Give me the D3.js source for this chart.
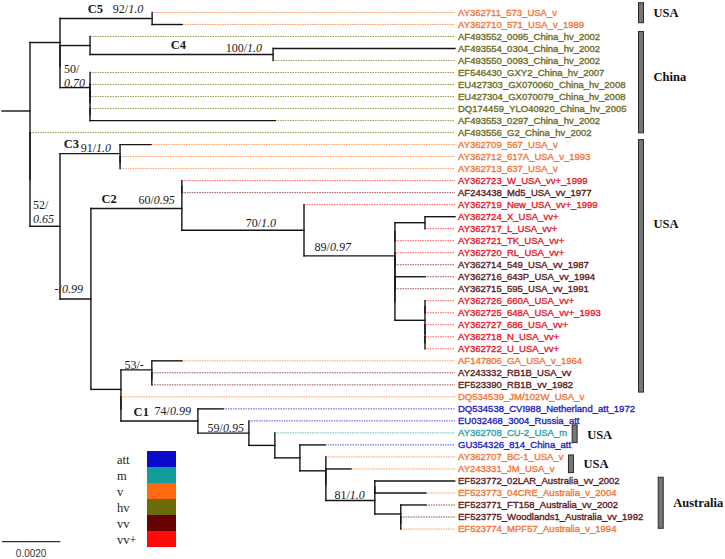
<!DOCTYPE html>
<html><head><meta charset="utf-8">
<script src="https://cdn.jsdelivr.net/npm/d3@7/dist/d3.min.js"></script>
<style>body{margin:0;background:#fff}svg{display:block}</style>
</head><body><svg id="c" width="725" height="559"></svg>
<script>
// ---------- DATA ----------
const leafNames = [
 "AY362711_573_USA_v","AY362710_571_USA_v_1989","AF493552_0095_China_hv_2002","AF493554_0304_China_hv_2002",
 "AF493550_0093_China_hv_2002","EF546430_GXY2_China_hv_2007","EU427303_GX070060_China_hv_2008","EU427304_GX070079_China_hv_2008",
 "DQ174459_YLO40920_China_hv_2005","AF493553_0297_China_hv_2002","AF493556_G2_China_hv_2002","AY362709_567_USA_v",
 "AY362712_617A_USA_v_1993","AY362713_637_USA_v","AY362723_W_USA_vv+_1999","AF243438_Md5_USA_vv_1977",
 "AY362719_New_USA_vv+_1999","AY362724_X_USA_vv+","AY362717_L_USA_vv+","AY362721_TK_USA_vv+",
 "AY362720_RL_USA_vv+","AY362714_549_USA_vv_1987","AY362716_643P_USA_vv_1994","AY362715_595_USA_vv_1991",
 "AY362726_660A_USA_vv+","AY362725_648A_USA_vv+_1993","AY362727_686_USA_vv+","AY362718_N_USA_vv+",
 "AY362722_U_USA_vv+","AF147806_GA_USA_v_1964","AY243332_RB1B_USA_vv","EF523390_RB1B_vv_1982",
 "DQ534539_JM/102W_USA_v","DQ534538_CVI988_Netherland_att_1972","EU032468_3004_Russia_att","AY362708_CU-2_USA_m",
 "GU354326_814_China_att","AY362707_BC-1_USA_v","AY243331_JM_USA_v","EF523772_02LAR_Australia_vv_2002",
 "EF523773_04CRE_Australia_v_2004","EF523771_FT158_Australia_vv_2002","EF523775_Woodlands1_Australia_vv_1992","EF523774_MPF57_Australia_v_1994"];
const leafTypes = [
 "v","v","hv","hv","hv","hv","hv","hv","hv","hv","hv","v","v","v","vv+","vv",
 "vv+","vv+","vv+","vv+","vv+","vv","vv","vv","vv+","vv+","vv+","vv+","vv+","v","vv","vv",
 "v","att","att","m","att","v","v","vv","v","vv","vv","v"];
const leafParents = [
 "nC5","nC5","nC4","n100","n100","n50","n50c","n50c","n50d","n50d","nB","nC3","nC3b","nC3b","nC2a","nC2a",
 "n70","nXL","nXL","n89a","n89c","n89c","n89e","n89e","nUGa","nUGa","nUGb","nUGc","nUGc","n53","n53a","n53a",
 "nDa","nC1","n59","nE","nF","nG","nGa","nHa","nHa","nI","nIa","nIa"];
const leafLengths = [
 0,0.00103,0,0.00624,0,0,0,0,0,0.00635,0,0.00106,0,0,0,0,
 0,0.00103,0,0,0,0,0.00103,0,0,0,0,0,0,0.00103,0,0,
 0,0.00086,0,0,0.00086,0,0.00086,0.00274,0.00175,0.00086,0,0];
// internal nodes: id, parent, branch length, support (bootstrap / posterior), clade name
const internalNodes = [
 {id:"root", parent:null,  length:0.00096},
 {id:"nA",   parent:"root", length:0.00103},
 {id:"nC5",  parent:"nA",   length:0.00316, bs:"92", pp:"1.0", clade:"C5"},
 {id:"nA2",  parent:"nA",   length:0},
 {id:"nC4",  parent:"nA2",  length:0.00103},
 {id:"n100", parent:"nC4",  length:0.00628, bs:"100", pp:"1.0", clade:"C4"},
 {id:"n50",  parent:"nA2",  length:0.00103, bs:"50", pp:"0.70"},
 {id:"n50b", parent:"n50",  length:0},
 {id:"n50c", parent:"n50b", length:0},
 {id:"n50d", parent:"n50b", length:0},
 {id:"nB",   parent:"root", length:0},
 {id:"nC",   parent:"nB",   length:0.00103, bs:"52", pp:"0.65"},
 {id:"nC3",  parent:"nC",   length:0.00206, bs:"91", pp:"1.0", clade:"C3"},
 {id:"nC3b", parent:"nC3",  length:0},
 {id:"nNeg", parent:"nC",   length:0.00106, bs:"-", pp:"0.99"},
 {id:"nC2",  parent:"nNeg", length:0.00312, bs:"60", pp:"0.95", clade:"C2"},
 {id:"nC2a", parent:"nC2",  length:0},
 {id:"n70",  parent:"nC2",  length:0.00419, bs:"70", pp:"1.0"},
 {id:"n89",  parent:"n70",  length:0.00312, bs:"89", pp:"0.97"},
 {id:"n89a", parent:"n89",  length:0},
 {id:"nXL",  parent:"n89a", length:0.00103},
 {id:"n89b", parent:"n89",  length:0},
 {id:"n89c", parent:"n89b", length:0},
 {id:"n89d", parent:"n89b", length:0},
 {id:"n89e", parent:"n89d", length:0},
 {id:"nUG",  parent:"n89d", length:0.00103},
 {id:"nUGa", parent:"nUG",  length:0},
 {id:"nUGb", parent:"nUG",  length:0},
 {id:"nUGc", parent:"nUGb", length:0},
 {id:"nD",   parent:"nNeg", length:0.00103},
 {id:"n53",  parent:"nD",   length:0.00106, bs:"53", pp:"-"},
 {id:"n53a", parent:"n53",  length:0},
 {id:"nDa",  parent:"nD",   length:0},
 {id:"nC1",  parent:"nDa",  length:0.00264, bs:"74", pp:"0.99", clade:"C1"},
 {id:"n59",  parent:"nC1",  length:0.00175, bs:"59", pp:"0.95"},
 {id:"nE",   parent:"n59",  length:0.00089},
 {id:"nF",   parent:"nE",   length:0.00086},
 {id:"nG",   parent:"nF",   length:0.00089},
 {id:"nGa",  parent:"nG",   length:0},
 {id:"nH",   parent:"nGa",  length:0.00168, bs:"81", pp:"1.0"},
 {id:"nHa",  parent:"nH",   length:0},
 {id:"nI",   parent:"nH",   length:0.00089},
 {id:"nIa",  parent:"nI",   length:0}
];
const typeKeys = ["att","m","v","hv","vv","vv+"];
const typeColors = ["#0a0acc","#139c9c","#ff6a10","#6b6b08","#660202","#ff0a0a"];
const labelColors = ["#2424c4","#2ea4a4","#f0783a","#6e6e26","#5e1c1c","#e8202a"];
const regionNames = ["USA","China","USA","USA","USA","Australia"];
const regionFirst = [0,2,11,35,37,39];
const regionLast  = [1,10,32,35,38,43];
const scaleBarValue = 0.002;
const scaleBarText = "0.0020";

// ---------- LAYOUT ----------
const svg = d3.select("#c");
const rows = internalNodes.map(d => ({...d}))
  .concat(leafNames.map((n,i) => ({id:"L"+i, parent:leafParents[i], length:leafLengths[i], name:n, type:leafTypes[i], index:i})));
const root = d3.stratify().id(d=>d.id).parentId(d=>d.parent)(rows);
root.eachAfter(n => { n.minLeaf = n.children ? d3.min(n.children, c=>c.minLeaf) : n.data.index; });
root.sort((a,b)=>a.minLeaf-b.minLeaf);
root.eachBefore(n => { n.dist = (n.parent ? n.parent.dist : 0) + n.data.length; });
const maxDist = d3.max(root.leaves(), l=>l.dist);

const x = d3.scaleLinear().domain([0, maxDist]).range([2, 455]);
const y = d3.scaleLinear().domain([0, leafNames.length-1]).range([12.5, 529]);
root.eachAfter(n => {
  n.y = n.children ? (n.children[0].y + n.children[n.children.length-1].y)/2 : y(n.data.index);
});
const typeColor = d3.scaleOrdinal(typeKeys, typeColors);
const labelColor = d3.scaleOrdinal(typeKeys, labelColors);

const lead = svg.append("g");
const tree = svg.append("g").attr("stroke","#151515").attr("stroke-width",1.4).attr("stroke-linecap","square").attr("fill","none");
root.leaves().forEach(l => {
  if (x(l.dist) < x(maxDist)-1) {
    lead.append("line").attr("x1",x(l.dist)).attr("x2",x(maxDist)).attr("y1",l.y).attr("y2",l.y)
      .attr("stroke",typeColor(l.data.type)).attr("stroke-width",1).attr("stroke-opacity",0.7)
      .attr("stroke-dasharray","1.5,1");
  }
});
tree.append("line").attr("x1",x(0)).attr("x2",x(root.dist)).attr("y1",root.y).attr("y2",root.y);
root.descendants().forEach(n => {
  if (n.parent && n.data.length > 0) {
    tree.append("line").attr("x1",x(n.parent.dist)).attr("x2",x(n.dist)).attr("y1",n.y).attr("y2",n.y);
  }
  if (n.children) {
    tree.append("line").attr("x1",x(n.dist)).attr("x2",x(n.dist))
      .attr("y1",n.children[0].y).attr("y2",n.children[n.children.length-1].y);
  }
});

// leaf labels
const labels = svg.append("g").attr("font-family","'Liberation Sans', Arial, sans-serif").attr("font-size","9.5px");
const labelRight = [];
root.leaves().forEach(l => {
  const c = labelColor(l.data.type);
  const t = labels.append("text").attr("x",x(maxDist)+3).attr("y",l.y).attr("dy","0.35em")
    .attr("fill",c).attr("stroke",c).attr("stroke-width",0.35).text(l.data.name);
  labelRight[l.data.index] = x(maxDist)+3 + t.node().getComputedTextLength();
});

// support + clade labels (placement offsets relative to node)
const place = {
  nC5:{dx:-9,dy:-5.3,c:[-49,-6]}, n100:{dx:-11,dy:-2.8,c:[-87,-6]},
  n50:{two:true,dx:-26,dy1:-14.3,dy2:-1}, nC:{two:true,dx:-27,dy1:-17.3,dy2:-3.3},
  nC3:{dx:-9,dy:-1.9,c:[-41,-5.3]}, nNeg:{dx:-8,dy:-6}, nC2:{dx:-7,dy:-4.6,c:[-65,-5]},
  n70:{dx:-28,dy:-3.5}, n89:{dx:-44,dy:-4.8}, n53:{dx:-8,dy:-0.8},
  nC1:{dx:-7,dy:-6,c:[-49,-5.3]}, n59:{dx:-5,dy:-1.2}, nH:{dx:-10,dy:-1.5}
};
const ann = svg.append("g").attr("font-family","'Liberation Serif','Times New Roman',serif").attr("fill","#1a1a1a");
root.descendants().filter(n=>n.data.bs).forEach(n => {
  const p = place[n.data.id]; const nx = x(n.dist);
  if (p.two) {
    ann.append("text").attr("x",nx+p.dx).attr("y",n.y+p.dy1).attr("font-size","12px").text(n.data.bs+"/");
    ann.append("text").attr("x",nx+p.dx).attr("y",n.y+p.dy2).attr("font-size","12px").attr("font-style","italic").text(n.data.pp);
  } else {
    const t = ann.append("text").attr("x",nx+p.dx).attr("y",n.y+p.dy).attr("font-size","12px").attr("text-anchor","end");
    t.append("tspan").text(n.data.bs+"/");
    t.append("tspan").attr("font-style", n.data.pp==="-"?"normal":"italic").text(n.data.pp);
  }
  if (n.data.clade) {
    ann.append("text").attr("x",nx+p.c[0]).attr("y",n.y+p.c[1]).attr("text-anchor","end")
      .attr("font-size","12.5px").attr("font-weight","bold").text(n.data.clade);
  }
});

// region bars
const barPad = [[9.8,-1.8],[5,0.2],[5,-4.8],[8,9.7],[2,3.7],[3.7,-0.7]];
const labDy = [4,-1,-37.5,5.5,4.5,4.5];
const gaps = [12,12,12,5,5,15];
const shared = d3.max(d3.range(0,3), g => d3.max(d3.range(regionFirst[g],regionLast[g]+1), i=>labelRight[i]));
const reg = svg.append("g");
regionNames.forEach((name,g) => {
  const right = g<3 ? shared : d3.max(d3.range(regionFirst[g],regionLast[g]+1), i=>labelRight[i]);
  const bx = right + gaps[g];
  const y0 = y(regionFirst[g]) - barPad[g][0], y1 = y(regionLast[g]) + barPad[g][1];
  reg.append("rect").attr("x",bx).attr("y",y0).attr("width",5).attr("height",y1-y0)
    .attr("fill","#777").attr("stroke","#2a2a2a").attr("stroke-width",1);
  reg.append("text").attr("x",bx+15).attr("y",(y0+y1)/2+labDy[g])
    .attr("font-family","'Liberation Serif','Times New Roman',serif").attr("font-weight","bold")
    .attr("font-size","12.5px").attr("fill","#111").text(name);
});

// legend
const leg = svg.append("g");
typeKeys.forEach((k,i) => {
  leg.append("rect").attr("x",147).attr("y",451+i*16).attr("width",29).attr("height",16).attr("fill",typeColors[i]);
  leg.append("text").attr("x",117).attr("y",451+i*16+12.5)
    .attr("font-family","'Liberation Serif','Times New Roman',serif").attr("font-size","12.5px").attr("fill","#222").text(k);
});

// scale bar
svg.append("line").attr("x1",x(0)).attr("x2",x(scaleBarValue)).attr("y1",541.7).attr("y2",541.7)
  .attr("stroke","#333").attr("stroke-width",1.3);
svg.append("text").attr("x",(x(0)+x(scaleBarValue))/2).attr("y",556.5).attr("text-anchor","middle")
  .attr("font-family","'Liberation Sans', Arial, sans-serif").attr("font-size","10px").attr("fill","#333").text(scaleBarText);
</script></body></html>
